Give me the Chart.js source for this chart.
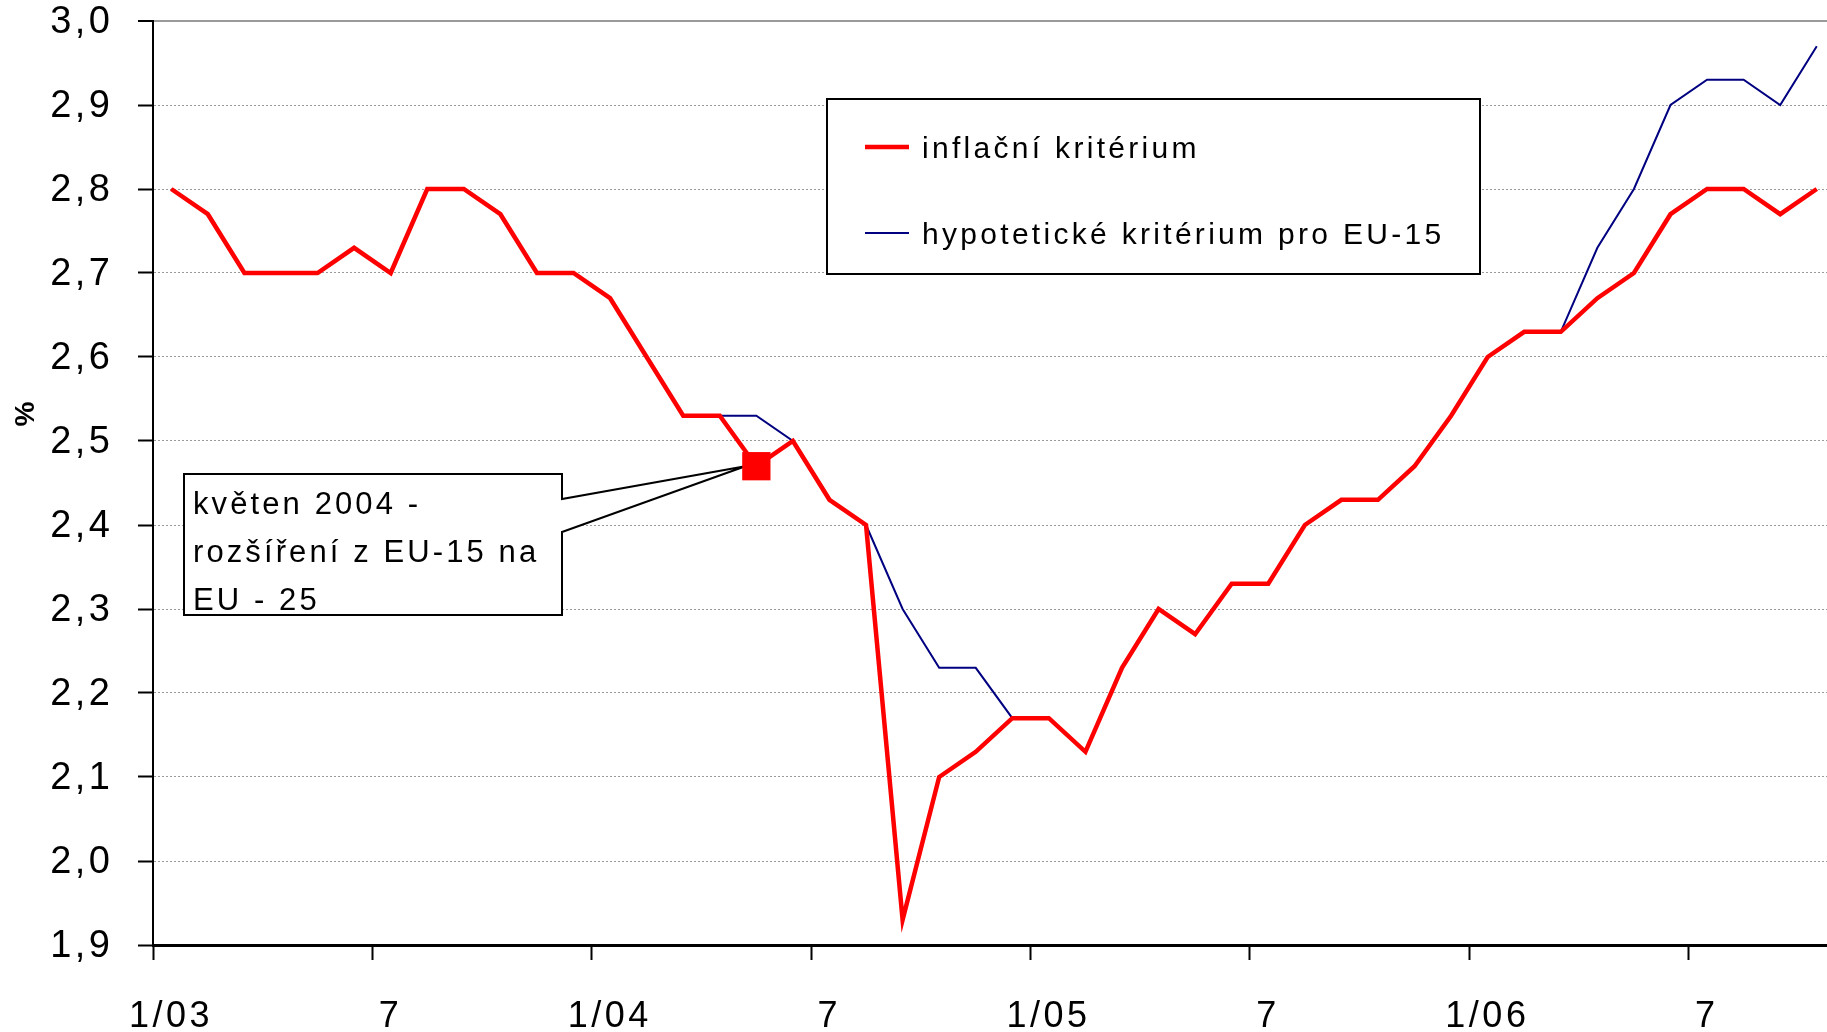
<!DOCTYPE html>
<html><head><meta charset="utf-8">
<script src="https://cdn.jsdelivr.net/npm/chart.js@4.4.0/dist/chart.umd.min.js"></script>
<style>html,body{margin:0;padding:0;background:#fff;overflow:hidden}#wrap{width:1827px;height:1032px;position:relative}</style>
</head><body><div id="wrap"><canvas id="c"></canvas></div>
<script>
// ---- data ----
const months = [
  '1/03','2/03','3/03','4/03','5/03','6/03','7/03','8/03','9/03','10/03','11/03','12/03',
  '1/04','2/04','3/04','4/04','5/04','6/04','7/04','8/04','9/04','10/04','11/04','12/04',
  '1/05','2/05','3/05','4/05','5/05','6/05','7/05','8/05','9/05','10/05','11/05','12/05',
  '1/06','2/06','3/06','4/06','5/06','6/06','7/06','8/06','9/06','10/06'
];
const inflationCriterion = [
  2.80,2.77,2.70,2.70,2.70,2.73,2.70,2.80,2.80,2.77,2.70,2.70,
  2.67,2.60,2.53,2.53,2.47,2.50,2.43,2.40,1.93,2.10,2.13,2.17,
  2.17,2.13,2.23,2.30,2.27,2.33,2.33,2.40,2.43,2.43,2.47,2.53,
  2.60,2.63,2.63,2.67,2.70,2.77,2.80,2.80,2.77,2.80
];
const hypotheticalEU15 = [
  2.80,2.77,2.70,2.70,2.70,2.73,2.70,2.80,2.80,2.77,2.70,2.70,
  2.67,2.60,2.53,2.53,2.53,2.50,2.43,2.40,2.30,2.23,2.23,2.17,
  2.17,2.13,2.23,2.30,2.27,2.33,2.33,2.40,2.43,2.43,2.47,2.53,
  2.60,2.63,2.63,2.73,2.80,2.90,2.93,2.93,2.90,2.97
];
const seriesNames = ['inflační kritérium', 'hypotetické kritérium pro EU-15'];
const xTickPositions = [0, 6, 12, 18, 24, 30, 36, 42];
const xTickLabels = ['1/03', '7', '1/04', '7', '1/05', '7', '1/06', '7'];
const markerIndex = months.indexOf('5/04');
const annotationLines = ['květen 2004 -', 'rozšíření z EU-15 na', 'EU - 25'];

const FONT = '"Liberation Sans", Arial, Helvetica, sans-serif';
const toPoints = arr => arr.map((v, i) => ({ x: i + 0.5, y: v }));

const decor = {
  id: 'decor',
  beforeDraw(chart) { chart.ctx.letterSpacing = '3.5px'; },
  beforeDatasetsDraw(chart) {
    const ctx = chart.ctx;
    const xs = chart.scales.x, ys = chart.scales.y;
    // legend box
    ctx.save();
    ctx.fillStyle = '#fff';
    ctx.fillRect(827, 99, 653, 175);
    ctx.lineWidth = 2; ctx.strokeStyle = '#000';
    ctx.strokeRect(827, 99, 653, 175);
    const rows = [147, 233];
    chart.data.datasets.forEach((ds, i) => {
      ctx.beginPath();
      ctx.moveTo(865, rows[i]); ctx.lineTo(909, rows[i]);
      ctx.lineWidth = ds.borderWidth; ctx.strokeStyle = ds.borderColor; ctx.stroke();
      ctx.font = '30px ' + FONT; ctx.letterSpacing = '3.3px';
      ctx.fillStyle = '#000'; ctx.textAlign = 'left'; ctx.textBaseline = 'alphabetic';
      ctx.fillText(ds.label, 922, rows[i] + 11);
    });
    ctx.restore();
    // callout annotation
    ctx.save();
    const tipX = xs.getPixelForValue(markerIndex + 0.5) - 11;
    const tipY = ys.getPixelForValue(inflationCriterion[markerIndex]);
    ctx.beginPath();
    ctx.moveTo(184, 474); ctx.lineTo(562, 474); ctx.lineTo(562, 499);
    ctx.lineTo(tipX, tipY); ctx.lineTo(562, 532); ctx.lineTo(562, 615);
    ctx.lineTo(184, 615); ctx.closePath();
    ctx.fillStyle = '#fff'; ctx.fill();
    ctx.lineWidth = 2; ctx.strokeStyle = '#000'; ctx.lineJoin = 'miter'; ctx.stroke();
    ctx.font = '31px ' + FONT; ctx.letterSpacing = '3.1px';
    ctx.fillStyle = '#000'; ctx.textAlign = 'left'; ctx.textBaseline = 'alphabetic';
    annotationLines.forEach((t, i) => ctx.fillText(t, 193, 514 + i * 48));
    ctx.restore();
  },
  afterDraw(chart) {
    const ctx = chart.ctx;
    ctx.save();
    ctx.letterSpacing = '0px';
    ctx.translate(26, 414); ctx.rotate(-Math.PI / 2);
    ctx.font = 'bold 28px ' + FONT;
    ctx.fillStyle = '#000'; ctx.textAlign = 'center'; ctx.textBaseline = 'middle';
    ctx.fillText('%', 0, 0);
    ctx.restore();
  }
};

new Chart(document.getElementById('c'), {
  type: 'line',
  data: {
    datasets: [
      {
        label: seriesNames[0],
        data: toPoints(inflationCriterion),
        borderColor: '#ff0000', backgroundColor: '#ff0000',
        borderWidth: 4.5, tension: 0, fill: false,
        pointStyle: 'rect',
        pointRadius: c => c.dataIndex === markerIndex ? 20 : 0,
        pointHoverRadius: c => c.dataIndex === markerIndex ? 20 : 0,
        pointBorderWidth: 0
      },
      {
        label: seriesNames[1],
        data: toPoints(hypotheticalEU15),
        borderColor: '#000080', backgroundColor: '#000080',
        borderWidth: 2, tension: 0, fill: false,
        pointRadius: 0, pointHoverRadius: 0
      }
    ]
  },
  options: {
    responsive: true, maintainAspectRatio: false, animation: false, events: [],
    layout: { padding: { top: 21, right: 0, bottom: 0, left: 0 } },
    plugins: { legend: { display: false }, tooltip: { enabled: false } },
    scales: {
      x: {
        type: 'linear', min: 0, max: 45.78, position: 'bottom',
        afterFit: s => { s.height = 87; s.paddingLeft = 0; s.paddingRight = 0; },
        afterBuildTicks: s => { s.ticks = xTickPositions.map(v => ({ value: v })); },
        grid: { drawOnChartArea: false, drawTicks: true, tickLength: 15, tickColor: '#000', tickWidth: 2 },
        border: { display: true, color: '#000', width: 3 },
        ticks: {
          autoSkip: false, maxRotation: 0, minRotation: 0,
          font: { family: FONT, size: 36, lineHeight: 1 }, color: '#000',
          padding: 39, labelOffset: 18,
          callback: v => { const k = xTickPositions.indexOf(v); return k >= 0 ? xTickLabels[k] : ''; }
        }
      },
      y: {
        min: 1.9, max: 3.0,
        afterFit: s => { s.width = 153; s.paddingTop = 0; s.paddingBottom = 0; },
        grid: {
          drawOnChartArea: true, drawTicks: true, tickLength: 15,
          color: '#9a9a9a',
          lineWidth: c => (c.tick && Math.abs(c.tick.value - 3.0) < 1e-6) ? 2 : 1,
          tickColor: '#000', tickWidth: 2, tickBorderDash: []
        },
        border: {
          display: true, color: '#000', width: 2,
          dash: c => (c.tick && Math.abs(c.tick.value - 3.0) > 1e-6) ? [2, 2] : []
        },
        ticks: {
          stepSize: 0.1,
          font: { family: FONT, size: 38, lineHeight: 1 }, color: '#000', padding: 24.5,
          labelOffset: 2,
          callback: v => Number(v).toFixed(1).replace('.', ',')
        }
      }
    }
  },
  plugins: [decor]
});
</script>
</body></html>
